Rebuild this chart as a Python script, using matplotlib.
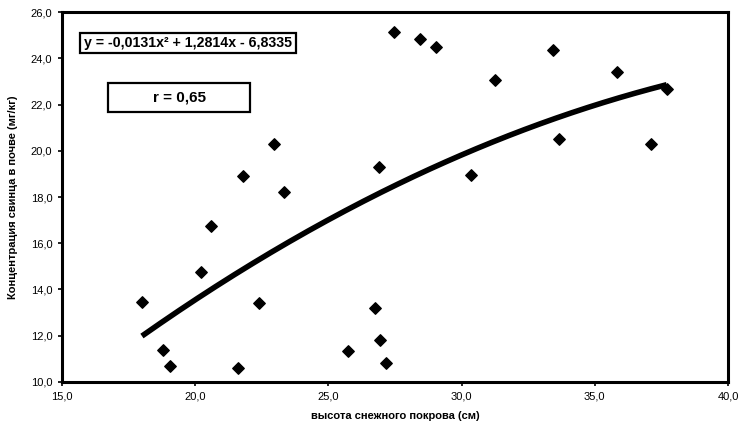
#!/usr/bin/env python3

import numpy as np
import matplotlib
matplotlib.use("Agg")
import matplotlib.pyplot as plt
from matplotlib.patches import Rectangle

plt.rcParams["font.family"] = ["Liberation Sans", "DejaVu Sans"]

# snow depth (cm) vs lead in soil (mg/kg)
snow_depth = [18.0, 18.8, 19.05, 20.2, 20.6, 21.6, 21.8, 22.4, 22.95, 23.35,
              25.75, 26.75, 26.9, 26.95, 27.15, 27.45, 28.45, 29.05, 30.35,
              31.25, 33.45, 33.65, 35.85, 37.1, 37.7]
lead_conc = [13.45, 11.4, 10.7, 14.75, 16.75, 10.6, 18.9, 13.4, 20.3, 18.2,
             11.35, 13.2, 19.3, 11.8, 10.8, 25.15, 24.85, 24.5, 18.95,
             23.05, 24.35, 20.5, 23.4, 20.3, 22.65]

# trendline coefficients as printed on the chart
coef = [-0.0131, 1.2814, -6.8335]
fit_range = [18.0, 37.7]

xticks = [15, 20, 25, 30, 35, 40]
yticks = [10, 12, 14, 16, 18, 20, 22, 24, 26]

fig = plt.figure(figsize=(7.42, 4.26), dpi=100)
ax = fig.add_axes([0.0836, 0.1033, 0.8975, 0.8685])

xs = np.linspace(fit_range[0], fit_range[1], 200)
ax.plot(xs, np.polyval(coef, xs), color="black", lw=4, solid_capstyle="butt", zorder=2)
ax.scatter(snow_depth, lead_conc, marker="D", s=34, color="black", zorder=3)

ax.set_xlim(15, 40)
ax.set_ylim(10, 26)
ax.set_xticks(xticks)
ax.set_xticklabels([f"{t},0" for t in xticks])
ax.set_yticks(yticks)
ax.set_yticklabels([f"{t},0" for t in yticks])
ax.tick_params(labelsize=8, length=3, width=1.2, direction="out", pad=4)

for sp in ax.spines.values():
    sp.set_linewidth(2.2)

ax.set_xlabel("высота снежного покрова (см)", fontsize=8, fontweight="bold", labelpad=7)
ax.set_ylabel("Концентрация свинца в почве (мг/кг)", fontsize=8, fontweight="bold", labelpad=9)

# equation box
ax.add_patch(Rectangle((0.027, 0.889), 0.324, 0.054, transform=ax.transAxes,
                       facecolor="white", edgecolor="black", lw=1.6, zorder=5))
ax.text(0.189, 0.916, "y = -0,0131x² + 1,2814x - 6,8335", transform=ax.transAxes,
        fontsize=10.2, fontweight="bold", va="center", ha="center", zorder=6)

# correlation box
ax.add_patch(Rectangle((0.069, 0.730), 0.213, 0.078, transform=ax.transAxes,
                       facecolor="white", edgecolor="black", lw=1.6, zorder=5))
ax.text(0.176, 0.769, "r = 0,65", transform=ax.transAxes,
        fontsize=11, fontweight="bold", va="center", ha="center", zorder=6)

fig.savefig("out.png", dpi=100)
